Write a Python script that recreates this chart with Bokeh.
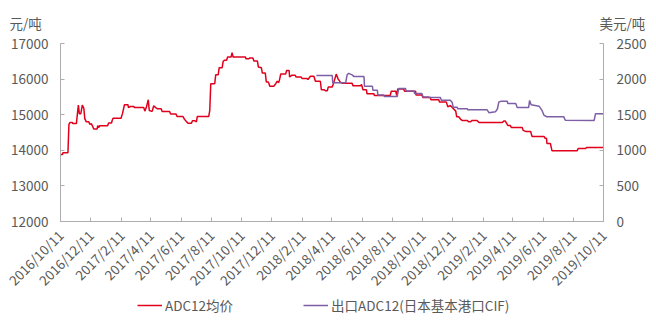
import math
import pandas as pd
from bokeh.plotting import figure
from bokeh.models import (Range1d, LinearAxis, FixedTicker, NumeralTickFormatter,
                          Legend, LegendItem, ColumnDataSource, Label)
from bokeh.embed import file_html
from bokeh.resources import INLINE

start_date = "2016-10-11"
tick_labels = ["2016/10/11", "2016/12/11", "2017/2/11", "2017/4/11", "2017/6/11",
               "2017/8/11", "2017/10/11", "2017/12/11", "2018/2/11", "2018/4/11",
               "2018/6/11", "2018/8/11", "2018/10/11", "2018/12/11", "2019/2/11",
               "2019/4/11", "2019/6/11", "2019/8/11", "2019/10/11"]
unit_left = "元/吨"
unit_right = "美元/吨"
series_names = ["ADC12均价", "出口ADC12(日本基本港口CIF)"]

# ADC12均价 (元/吨): days since 2016-10-11, value
red_days = [0, 4, 5, 15, 17, 19, 24, 25, 32, 36, 38, 41, 44, 47, 49, 52, 57, 59, 62, 65,
            67, 74, 75, 77, 79, 95, 97, 103, 104, 106, 122, 125, 129, 136, 137, 141, 148,
            149, 168, 170, 173, 177, 179, 183, 185, 188, 192, 195, 203, 205, 220, 222,
            233, 235, 247, 250, 253, 257, 264, 266, 271, 274, 276, 299, 301, 303, 311,
            313, 318, 320, 326, 328, 331, 335, 337, 344, 346, 348, 373, 374, 380, 381,
            388, 390, 397, 399, 405, 407, 413, 415, 419, 421, 422, 430, 434, 437, 440,
            442, 444, 454, 456, 461, 462, 467, 473, 475, 485, 487, 497, 499, 504, 511,
            514, 524, 526, 532, 534, 538, 540, 548, 551, 556, 560, 565, 569, 588, 590,
            605, 607, 610, 617, 618, 632, 633, 665, 667, 676, 678, 680, 692, 694, 716,
            717, 729, 731, 746, 747, 763, 764, 778, 781, 786, 790, 797, 799, 803, 807,
            810, 820, 823, 827, 830, 840, 844, 891, 894, 897, 902, 907, 909, 931, 933,
            938, 948, 951, 975, 977, 980, 981, 988, 991, 1042, 1044, 1059, 1061, 1095]
red_vals = [13880, 13880, 13930, 13930, 14730, 14780, 14780, 14750, 14750, 15270, 15030,
            15030, 15270, 15180, 14890, 14800, 14800, 14730, 14750, 14670, 14600, 14600,
            14690, 14640, 14690, 14690, 14770, 14770, 14830, 14900, 14900, 15030, 15280,
            15280, 15200, 15230, 15230, 15200, 15200, 15100, 15200, 15420, 15120, 15100,
            15100, 15250, 15200, 15170, 15170, 15090, 15090, 15020, 15020, 14950, 14950,
            14870, 14820, 14760, 14760, 14830, 14830, 14800, 14950, 14950, 15120, 15870,
            15870, 16120, 16120, 16320, 16320, 16500, 16530, 16530, 16620, 16620, 16740,
            16620, 16620, 16570, 16570, 16590, 16590, 16510, 16510, 16340, 16320, 16170,
            16170, 15920, 15920, 15850, 15800, 15800, 15870, 15940, 15900, 16000, 16140,
            16140, 16240, 16240, 16060, 16110, 16110, 16060, 16060, 16020, 16020, 15990,
            16080, 16080, 15940, 15940, 15700, 15700, 15670, 15670, 15780, 15780, 15900,
            16140, 16000, 15900, 15880, 15880, 15810, 15810, 15850, 15700, 15700, 15590,
            15590, 15540, 15540, 15660, 15660, 15540, 15720, 15720, 15660, 15660, 15550,
            15550, 15480, 15480, 15420, 15420, 15360, 15360, 15220, 15260, 15200, 15100,
            14940, 14940, 14870, 14840, 14840, 14800, 14800, 14840, 14840, 14780, 14780,
            14820, 14820, 14700, 14700, 14640, 14640, 14560, 14530, 14530, 14390, 14390,
            14340, 14340, 14190, 14190, 13990, 13990, 14050, 14050, 14080, 14080]

# 出口ADC12(日本基本港口CIF) (美元/吨)
purple_days = [516, 548, 549, 575, 578, 581, 588, 592, 612, 613, 629, 630, 639, 640, 652,
               653, 679, 682, 696, 697, 713, 714, 729, 731, 743, 744, 766, 768, 786, 790,
               792, 800, 801, 820, 821, 860, 864, 877, 881, 884, 889, 901, 902, 918, 921,
               944, 946, 949, 965, 971, 975, 981, 1015, 1018, 1076, 1079, 1095]
purple_vals = [2050, 2050, 1947, 1947, 2060, 2080, 2060, 2035, 2035, 1900, 1900, 1843,
               1843, 1778, 1778, 1755, 1755, 1867, 1867, 1834, 1834, 1796, 1796, 1750,
               1750, 1740, 1740, 1703, 1703, 1670, 1604, 1604, 1585, 1585, 1571, 1571,
               1529, 1540, 1580, 1680, 1689, 1689, 1656, 1656, 1600, 1600, 1700, 1640,
               1620, 1560, 1492, 1470, 1470, 1422, 1417, 1515, 1515]

left_ticks = [12000, 13000, 14000, 15000, 16000, 17000]
right_ticks = [0, 500, 1000, 1500, 2000, 2500]

base = pd.Timestamp(start_date)
tick_days = [int((pd.to_datetime(t, format="%Y/%m/%d") - base).days) for t in tick_labels]
d0, d1 = tick_days[0], tick_days[-1]

FONT = "Noto Sans CJK SC"
TXT = "#595959"
AX = "#ADADAD"
RED = "#E0001B"
PURPLE = "#7E5FA6"

# page layout in pixels: the frame covers the whole page; the axes are placed inside it
W, H = 656, 322
PL, PR, PT, PB = 60, 603, 43, 221   # plot box of the reference
sx = (d1 - d0) / (PR - PL)
y0, y1 = left_ticks[0], left_ticks[-1]
u0, u1 = right_ticks[0], right_ticks[-1]
sy = (y1 - y0) / (PB - PT)
su = (u1 - u0) / (PB - PT)

p = figure(width=W, height=H, output_backend="svg", toolbar_location=None,
           x_range=Range1d(d0 - PL * sx, d1 + (W - PR) * sx),
           y_range=Range1d(y0 - (H - PB) * sy, y1 + PT * sy),
           x_axis_location=None, y_axis_location=None,
           min_border_left=0, min_border_right=0, min_border_top=0, min_border_bottom=0)
p.extra_y_ranges = {"usd": Range1d(u0 - (H - PB) * su, u1 + PT * su)}
p.xgrid.visible = False
p.ygrid.visible = False
p.outline_line_color = None

src_r = ColumnDataSource(dict(x=red_days, y=red_vals))
src_p = ColumnDataSource(dict(x=purple_days, y=purple_vals))
r1 = p.line("x", "y", source=src_r, line_color=RED, line_width=1.5)
r2 = p.line("x", "y", source=src_p, line_color=PURPLE, line_width=1.5, y_range_name="usd")

def style(ax):
    ax.axis_line_color = AX
    ax.major_tick_line_color = AX
    ax.major_tick_in = 4
    ax.major_tick_out = 0
    ax.minor_tick_line_color = None
    ax.major_label_text_font = FONT
    ax.major_label_text_font_size = "13.5px"
    ax.major_label_text_color = TXT

xa = LinearAxis(fixed_location=y0, bounds=(d0, d1))
style(xa)
xa.ticker = FixedTicker(ticks=tick_days)
xa.major_label_overrides = {d: t for d, t in zip(tick_days, tick_labels)}
xa.major_label_orientation = math.pi / 4
xa.major_label_standoff = 11
p.add_layout(xa, "below")

ya = LinearAxis(fixed_location=d0, bounds=(y0, y1))
style(ya)
ya.ticker = FixedTicker(ticks=left_ticks)
ya.formatter = NumeralTickFormatter(format="0")
ya.major_label_standoff = 12
p.add_layout(ya, "left")

ra = LinearAxis(y_range_name="usd", fixed_location=d1, bounds=(u0, u1))
style(ra)
ra.ticker = FixedTicker(ticks=right_ticks)
ra.formatter = NumeralTickFormatter(format="0")
ra.major_label_standoff = 13
p.add_layout(ra, "right")

for txt, x in ((unit_left, 9), (unit_right, 599)):
    p.add_layout(Label(x=x, y=H - 22, x_units="screen", y_units="screen", text=txt,
                       text_font=FONT, text_font_size="13.5px", text_color=TXT,
                       text_baseline="middle", text_align="left"))

legend = Legend(items=[LegendItem(label=series_names[0], renderers=[r1]),
                       LegendItem(label=series_names[1], renderers=[r2])],
                location=(137, 7), orientation="horizontal",
                label_text_font=FONT, label_text_font_size="13.5px", label_text_color=TXT,
                glyph_width=25, glyph_height=16, label_height=16, label_standoff=3,
                spacing=70, padding=0, margin=0, border_line_color=None,
                background_fill_alpha=0)
p.add_layout(legend, "center")

open("out.html", "w").write(file_html(p, INLINE))
